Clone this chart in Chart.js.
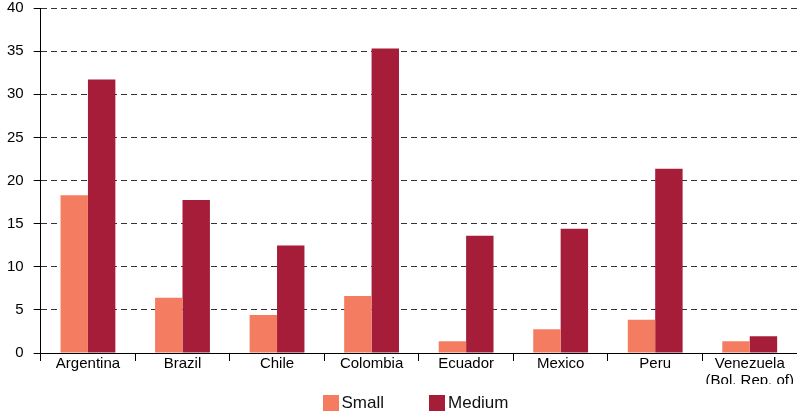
<!DOCTYPE html>
<html>
<head>
<meta charset="utf-8">
<script src="https://cdn.jsdelivr.net/npm/chart.js@4"></script>
<style>
  body { margin: 0; background: #fff; }
  #wrap { position: relative; width: 797px; height: 416px; }
  #legend {
    position: absolute; left: 34px; right: 0; top: 393px;
    display: flex; justify-content: center; gap: 45px;
    font: 17px "Liberation Sans", Arial, sans-serif; color: #111;
  }
  .item { display: flex; align-items: center; gap: 3px; }
  .swatch { width: 16px; height: 16px; }
</style>
</head>
<body>
<div id="wrap">
  <canvas id="firmChart" width="797" height="416"></canvas>
  <div id="legend"></div>
</div>
<script>
// categories and series
const countries = ['Argentina', 'Brazil', 'Chile', 'Colombia', 'Ecuador', 'Mexico', 'Peru', ['Venezuela', '(Bol. Rep. of)']]
const small = [18.3, 6.4, 4.4, 6.6, 1.35, 2.75, 3.85, 1.35]
const medium = [31.7, 17.75, 12.45, 35.3, 13.6, 14.4, 21.35, 1.95]
const yMax = 40
const yStep = 5

const font = "'Liberation Sans', Arial, sans-serif"
const datasets = [
    { label: 'Small', data: small, backgroundColor: '#f47d61' },
    { label: 'Medium', data: medium, backgroundColor: '#a51d39' },
]

new Chart('firmChart', {
    type: 'bar',
    data: {
        labels: countries,
        datasets: datasets.map(d => ({
            ...d,
            borderWidth: 0,
            categoryPercentage: 0.58,
            barPercentage: 1.0,
        })),
    },
    options: {
        responsive: false,
        animation: false,
        layout: { padding: { left: -3, right: 0, top: 8, bottom: 32 } },
        plugins: {
            legend: { display: false },
            tooltip: { enabled: false },
        },
        scales: {
            x: {
                grid: {
                    display: true,
                    offset: true,
                    drawOnChartArea: false,
                    drawTicks: true,
                    tickLength: 8,
                    tickColor: '#000',
                },
                border: { display: true, color: '#000', width: 1 },
                ticks: {
                    color: '#000',
                    padding: -5,
                    maxRotation: 0,
                    autoSkip: false,
                    font: { family: font, size: 15, lineHeight: 1.1 },
                },
            },
            y: {
                min: 0,
                max: yMax,
                // let the plot run right up to the top gridline
                afterFit: scale => { scale.paddingTop = 0; scale.paddingBottom = 0 },
                grid: {
                    color: '#333',
                    lineWidth: 1,
                    drawTicks: true,
                    tickLength: 7,
                    tickColor: '#000',
                },
                border: { display: true, color: '#000', width: 1, dash: [6, 4] },
                ticks: {
                    stepSize: yStep,
                    color: '#000',
                    padding: 10,
                    font: { family: font, size: 15 },
                },
            },
        },
    },
})

// legend below the plot
const legend = document.getElementById('legend')
datasets.forEach(d => {
    const item = document.createElement('div')
    item.className = 'item'
    item.innerHTML = '<span class="swatch" style="background:' + d.backgroundColor + '"></span><span>' + d.label + '</span>'
    legend.appendChild(item)
})
</script>
</body>
</html>
